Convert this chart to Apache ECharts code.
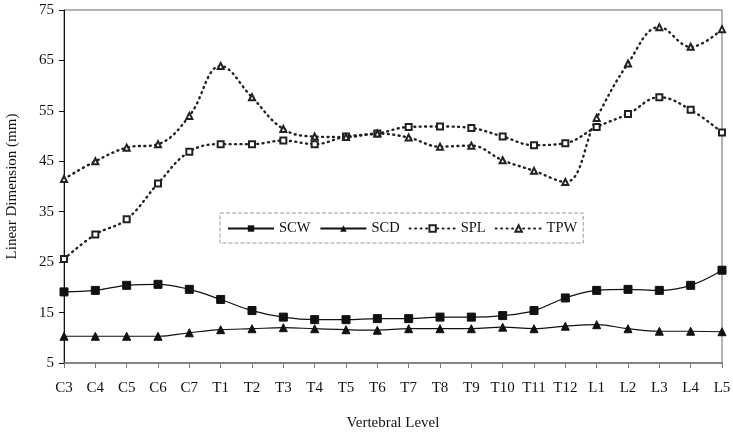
<!DOCTYPE html>
<html><head><meta charset="utf-8">
<script src="https://cdn.jsdelivr.net/npm/echarts@6/dist/echarts.min.js"></script>
<style>html,body{margin:0;padding:0;background:#fff}#c{width:733px;height:433px}</style>
</head><body><div id="c"></div>
<script>
const categories = ['C3','C4','C5','C6','C7','T1','T2','T3','T4','T5','T6','T7','T8','T9','T10','T11','T12','L1','L2','L3','L4','L5'];
const SCW = [19.1,19.4,20.4,20.6,19.6,17.6,15.4,14.1,13.6,13.6,13.8,13.8,14.1,14.1,14.4,15.4,17.9,19.4,19.6,19.4,20.4,23.4];
const SCD = [10.3,10.3,10.3,10.3,11.0,11.6,11.8,12.0,11.8,11.6,11.5,11.8,11.8,11.8,12.1,11.8,12.3,12.6,11.8,11.3,11.3,11.2];
const SPL = [25.6,30.5,33.5,40.6,46.9,48.4,48.4,49.1,48.4,49.9,50.5,51.8,51.9,51.6,49.9,48.2,48.6,51.8,54.4,57.7,55.2,50.7];
const TPW = [41.5,45.0,47.7,48.4,54.0,63.9,57.7,51.4,49.9,49.8,50.5,49.7,47.9,48.1,45.2,43.1,40.9,53.6,64.4,71.6,67.7,71.2];
const yTicks = {min:5, max:75, interval:10};

const FONT = '"Liberation Serif","Times New Roman",serif';
const chart = echarts.init(document.getElementById('c'), null, {renderer:'canvas'});
function solid(name, data, symbol, size){
  return {name, type:'line', data, smooth:0.4, symbol, symbolSize:size,
    itemStyle:{color:'#111', borderColor:'#111'},
    lineStyle:{color:'#111', width:1.2, type:'solid'}, z:3};
}
function dotted(name, data, symbol, size){
  return {name, type:'line', data, smooth:0.4, symbol:'empty'+symbol[0].toUpperCase()+symbol.slice(1), symbolSize:size,
    itemStyle:{color:'#222', borderColor:'#222', borderWidth:1.2},
    lineStyle:{color:'#222', width:2.4, type:[1,4.5], cap:'round'}, z:2};
}
chart.setOption({
  animation:false,
  backgroundColor:'#fff',
  textStyle:{fontFamily:FONT, color:'#111'},
  grid:{left:64, right:11, top:10, bottom:70, containLabel:false, outerBoundsMode:'none',
        show:true, borderColor:'#666', borderWidth:1},
  legend:{
    left:220, top:213, width:380, padding:[8,6,7,7],
    borderColor:'#999', borderWidth:1, borderType:'dashed',
    itemWidth:46, itemHeight:8, itemGap:9,
    textStyle:{fontFamily:FONT, fontSize:14.5, color:'#111'},
    data:['SCW','SCD','SPL','TPW']
  },
  xAxis:{
    type:'category', data:categories, boundaryGap:false,
    name:'Vertebral Level', nameLocation:'middle', nameGap:53,
    nameTextStyle:{fontFamily:FONT, fontSize:15, color:'#111'},
    axisLine:{lineStyle:{color:'#777', width:1.5}},
    axisTick:{show:true, alignWithLabel:true, length:5, lineStyle:{color:'#777'}},
    axisLabel:{fontFamily:FONT, fontSize:15, color:'#111', margin:18, interval:0},
    splitLine:{show:false}
  },
  yAxis:{
    type:'value', min:yTicks.min, max:yTicks.max, interval:yTicks.interval,
    name:'Linear Dimension (mm)', nameLocation:'middle', nameGap:44,
    nameTextStyle:{fontFamily:FONT, fontSize:15, color:'#111'},
    axisLine:{show:true, lineStyle:{color:'#111', width:1}},
    axisTick:{show:true, length:5, lineStyle:{color:'#111'}},
    axisLabel:{fontFamily:FONT, fontSize:15, color:'#111', margin:10},
    splitLine:{show:false}
  },
  series:[
    solid('SCW', SCW, 'rect', 8),
    solid('SCD', SCD, 'triangle', 8),
    dotted('SPL', SPL, 'rect', 6),
    dotted('TPW', TPW, 'triangle', 6)
  ]
});
</script></body></html>
